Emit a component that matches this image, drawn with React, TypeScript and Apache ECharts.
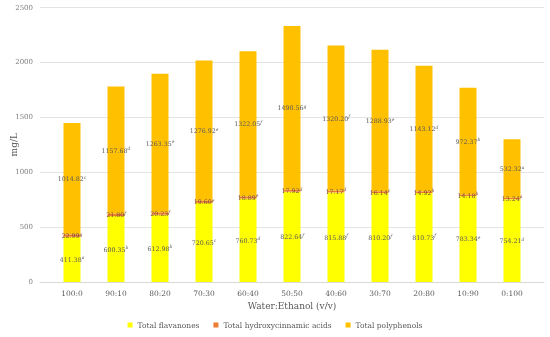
import React, { useEffect, useRef } from "react";
import * as echarts from "echarts";

const categories = ["100:0", "90:10", "80:20", "70:30", "60:40", "50:50", "40:60", "30:70", "20:80", "10:90", "0:100"];
const flavanones = [411.38, 600.35, 612.98, 720.65, 760.73, 822.64, 815.88, 810.2, 810.73, 783.34, 754.21];
const flavanoneLetters = ["a", "b", "b", "c", "d", "f", "f", "f", "f", "e", "d"];
const hydroxycinnamic = [22.99, 21.8, 20.23, 19.6, 18.89, 17.92, 17.17, 16.14, 14.92, 14.18, 13.24];
const hydroxyLetters = ["g", "f", "f", "e", "e", "d", "d", "c", "b", "b", "a"];
const polyphenols = [1014.82, 1157.68, 1263.35, 1276.92, 1322.05, 1490.56, 1320.2, 1288.93, 1143.12, 972.37, 532.32];
const polyLetters = ["c", "d", "e", "e", "f", "g", "f", "e", "d", "b", "a"];
const yTicks = { min: 0, max: 2500, interval: 500 };

const FONT = "DejaVu Serif";

function makeLabel(letters: string[], color: string) {
  return {
    show: true,
    position: "inside",
    fontFamily: FONT,
    formatter: (p: any) => `{v|${Number(p.value).toFixed(2)}}{s|${letters[p.dataIndex]}}`,
    rich: {
      v: { fontFamily: FONT, fontSize: 6.3, color, lineHeight: 8, verticalAlign: "middle" },
      s: { fontFamily: FONT, fontSize: 4.5, fontStyle: "italic", color, lineHeight: 8, verticalAlign: "top" },
    },
  };
}

export default function App() {
  const ref = useRef<HTMLDivElement>(null);
  useEffect(() => {
    if (!ref.current) return;
    const chart = echarts.init(ref.current, undefined, { renderer: "svg" });
    chart.setOption({
      animation: false,
      textStyle: { fontFamily: FONT },
      grid: [
        { left: 40, right: 6, top: 7.5, bottom: 55, outerBoundsMode: "none", containLabel: false },
        { left: 50, right: 16, top: 7.5, bottom: 55, outerBoundsMode: "none", containLabel: false },
      ],
      legend: {
        bottom: 3,
        left: "center",
        itemWidth: 5,
        itemHeight: 5,
        itemGap: 14,
        icon: "rect",
        textStyle: { fontFamily: FONT, fontSize: 7.5, color: "#595959" },
        data: ["Total flavanones", "Total hydroxycinnamic acids", "Total polyphenols"],
      },
      xAxis: [
        {
          gridIndex: 0,
          type: "value",
          min: 0,
          max: 1,
          axisLine: { show: true, onZero: false, lineStyle: { color: "#d9d9d9" } },
          axisTick: { show: false },
          axisLabel: { show: false },
          splitLine: { show: false },
        },
        {
          gridIndex: 1,
          type: "category",
          data: categories,
          name: "Water:Ethanol (v/v)",
          nameLocation: "middle",
          nameGap: 16,
          nameTextStyle: { fontFamily: FONT, fontSize: 9, color: "#595959" },
          axisLine: { show: false },
          axisTick: { show: false },
          axisLabel: { fontFamily: FONT, fontSize: 7.5, color: "#595959", margin: 7 },
        },
      ],
      yAxis: [
        {
          gridIndex: 0,
          type: "value",
          min: yTicks.min,
          max: yTicks.max,
          interval: yTicks.interval,
          name: "mg/L",
          nameLocation: "middle",
          nameGap: 22,
          nameMoveOverlap: false,
          nameTextStyle: { fontFamily: FONT, fontSize: 9, color: "#595959" },
          axisLine: { show: false },
          axisTick: { show: false },
          axisLabel: {
            fontFamily: FONT,
            fontSize: 7,
            color: "#7f7f7f",
            margin: 7,
            showMaxLabel: true,
            formatter: (v: number) => String(v),
          },
          splitLine: { lineStyle: { color: "#e3e3e3" } },
        },
        {
          gridIndex: 1,
          type: "value",
          min: yTicks.min,
          max: yTicks.max,
          interval: yTicks.interval,
          show: false,
          splitLine: { show: false },
        },
      ],
      series: [
        {
          name: "Total flavanones",
          type: "bar",
          stack: "t",
          xAxisIndex: 1,
          yAxisIndex: 1,
          barWidth: 17,
          data: flavanones,
          itemStyle: { color: "#FFFF00" },
          label: makeLabel(flavanoneLetters, "#595959"),
        },
        {
          name: "Total hydroxycinnamic acids",
          type: "bar",
          stack: "t",
          xAxisIndex: 1,
          yAxisIndex: 1,
          barWidth: 17,
          data: hydroxycinnamic,
          itemStyle: { color: "#ED7D31" },
          label: makeLabel(hydroxyLetters, "#7a4a3a"),
        },
        {
          name: "Total polyphenols",
          type: "bar",
          stack: "t",
          xAxisIndex: 1,
          yAxisIndex: 1,
          barWidth: 17,
          data: polyphenols,
          itemStyle: { color: "#FFC000" },
          label: makeLabel(polyLetters, "#595959"),
        },
      ],
    });
    return () => chart.dispose();
  }, []);
  return <div ref={ref} style={{ position: "fixed", left: 0, top: 0, width: 550, height: 337 }} />;
}
